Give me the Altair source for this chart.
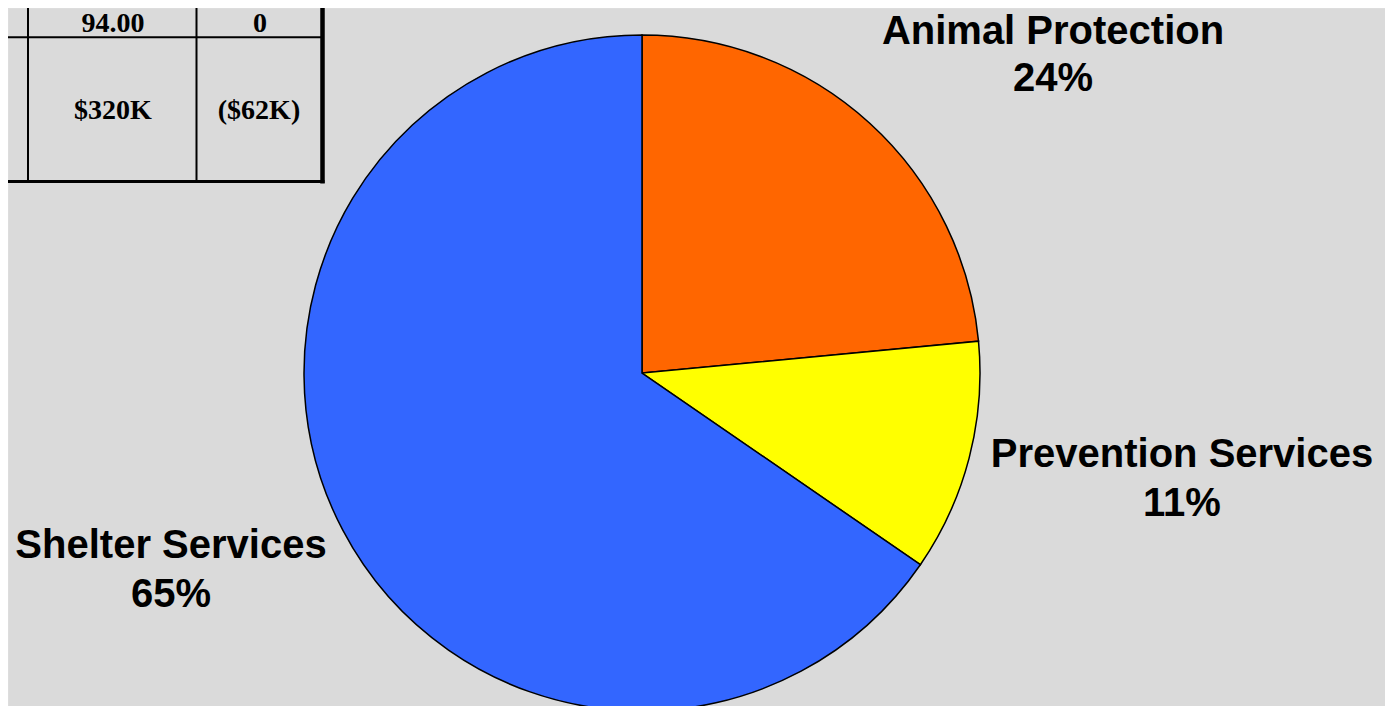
import altair as alt
import pandas as pd

# ---- data ----
categories = ["Animal Protection", "Prevention Services", "Shelter Services"]
shares = [23.5, 11.1, 65.4]
pct_labels = ["24%", "11%", "65%"]
colors = ["#FF6600", "#FFFF00", "#3366FF"]

table_cells = ["94.00", "0", "$320K", "($62K)"]

# ---- layout (chart pixel space) ----
W, H = 1377, 698
CX, CY, R = 634, 365, 338
label_x = [1045, 1174, 163]
label_y1 = [36, 459, 550]
label_y2 = [83, 508, 599]
cell_x = [105, 252, 105, 251]
cell_y = [24, 24, 111, 111]
rule_x = [20, 188.5, 314.5, -8, -8]
rule_x2 = [20, 188.5, 314.5, 314.5, 316.5]
rule_y = [-8, -8, -8, 29.3, 173.5]
rule_y2 = [175, 175, 175.5, 29.3, 173.5]
rule_w = [2, 2, 4.5, 2, 3]

xs = alt.Scale(domain=[0, W], nice=False, zero=False)
ys = alt.Scale(domain=[0, H], nice=False, zero=False, reverse=True)

pie_df = pd.DataFrame({"category": categories, "share": shares, "order": [0, 1, 2]})
pie = alt.Chart(pie_df).mark_arc(radius=R, stroke="black", strokeWidth=1.5).encode(
    theta=alt.Theta("share:Q", stack=True),
    color=alt.Color("category:N", scale=alt.Scale(domain=categories, range=colors), legend=None),
    order=alt.Order("order:Q"),
    x=alt.value(CX),
    y=alt.value(CY),
)

lab_rows = []
for i, c in enumerate(categories):
    lab_rows.append({"x": label_x[i], "y": label_y1[i], "t": c})
    lab_rows.append({"x": label_x[i], "y": label_y2[i], "t": pct_labels[i]})
lab_df = pd.DataFrame(lab_rows)
labels = alt.Chart(lab_df).mark_text(
    font="Liberation Sans", fontWeight="bold", fontSize=40, baseline="alphabetic",
    align="center", color="black"
).encode(
    x=alt.X("x:Q", scale=xs, axis=None),
    y=alt.Y("y:Q", scale=ys, axis=None),
    text="t:N",
)

cell_df = pd.DataFrame({"x": cell_x, "y": cell_y, "t": table_cells})
cells = alt.Chart(cell_df).mark_text(
    font="Liberation Serif", fontWeight="bold", fontSize=28, baseline="alphabetic",
    align="center", color="black"
).encode(
    x=alt.X("x:Q", scale=xs, axis=None),
    y=alt.Y("y:Q", scale=ys, axis=None),
    text="t:N",
)

rule_df = pd.DataFrame({"x": rule_x, "x2": rule_x2, "y": rule_y, "y2": rule_y2, "w": rule_w})
rules = alt.Chart(rule_df).mark_rule(color="black").encode(
    x=alt.X("x:Q", scale=xs, axis=None),
    x2="x2:Q",
    y=alt.Y("y:Q", scale=ys, axis=None),
    y2="y2:Q",
    strokeWidth=alt.StrokeWidth("w:Q", scale=None),
)

chart = alt.layer(rules, cells, pie, labels).properties(
    width=W, height=H, padding=0,
    autosize=alt.AutoSizeParams(type="none"),
).configure_view(stroke=None).configure(background="#dadada")

chart.save("out.html", embed_options={"renderer": "svg", "actions": False})
